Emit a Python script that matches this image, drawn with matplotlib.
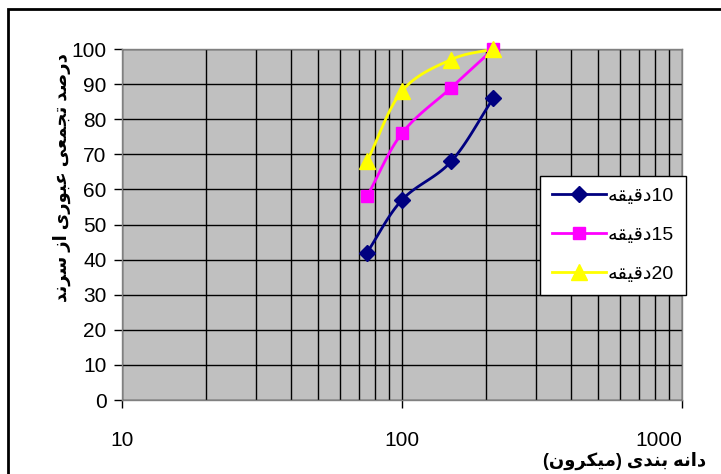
import numpy as np
import matplotlib
matplotlib.use("Agg")
import matplotlib.pyplot as plt
from matplotlib.lines import Line2D

# === Data ===
sizes_um = [75, 100, 150, 212]
pass_10min = [42, 57, 68, 86]
pass_15min = [58, 76, 89, 100]
pass_20min = [68, 88, 97, 100]

# Persian labels written as shaped presentation forms in visual (left-to-right) order
minute_word = "\uFEEA\uFED8\uFEF4\uFED7\uFEA9"          # دقیقه
series_labels = [minute_word + "10", minute_word + "15", minute_word + "20"]
ylabel_text = " ".join([
    "\uFEAA\uFEE7\uFEAE\uFEB3",                          # سرند
    "\uFEAF\uFE8D",                                      # از
    "\uFEEF\uFEAD\uFEEE\uFE92\uFECB",                    # عبوری
    "\uFEF0\uFECC\uFEE4\uFEA0\uFE97",                    # تجمعی
    "\uFEAA\uFEBB\uFEAD\uFEA9",                          # درصد
])
xlabel_text = " ".join([
    "(\uFEE5\uFEED\uFEAE\uFEDC\uFEF4\uFEE3)",            # (میکرون)
    "\uFEEF\uFEAA\uFEE8\uFE91",                          # بندی
    "\uFEEA\uFEE7\uFE8D\uFEA9",                          # دانه
])

colors = ["#000080", "#FF00FF", "#FFFF00"]
markers = ["D", "s", "^"]
marker_sizes = [8, 9, 11]
FONT = ["Liberation Sans", "DejaVu Sans"]


def smooth_curve(x, y, n=30):
    """Catmull-Rom style smoothing in log-x space, similar to Excel's smoothed lines."""
    lx = np.log10(np.asarray(x, float))
    yy = np.asarray(y, float)
    px = np.concatenate([[2 * lx[0] - lx[1]], lx, [2 * lx[-1] - lx[-2]]])
    py = np.concatenate([[2 * yy[0] - yy[1]], yy, [2 * yy[-1] - yy[-2]]])
    out_x, out_y = [], []
    t = np.linspace(0, 1, n)
    for i in range(1, len(px) - 2):
        for arr, out in ((px, out_x), (py, out_y)):
            p0, p1, p2, p3 = arr[i - 1], arr[i], arr[i + 1], arr[i + 2]
            seg = 0.5 * ((2 * p1) + (-p0 + p2) * t
                         + (2 * p0 - 5 * p1 + 4 * p2 - p3) * t ** 2
                         + (-p0 + 3 * p1 - 3 * p2 + p3) * t ** 3)
            out.extend(seg)
    return 10 ** np.array(out_x), np.array(out_y)


fig = plt.figure(figsize=(7.21, 4.74), dpi=100)
ax = fig.add_axes([122 / 721, 1 - 400 / 474, 560 / 721, 351 / 474])
ax.set_facecolor("#C0C0C0")

# chart area border
fig.patches.append(plt.Rectangle((8 / 721, -0.1), 1.2, 1 - 9 / 474 + 0.1, transform=fig.transFigure,
                                 fill=False, edgecolor="black", linewidth=2, zorder=0))

handles = []
for vals, c, m, ms, lab in zip([pass_10min, pass_15min, pass_20min], colors, markers, marker_sizes, series_labels):
    sx, sy = smooth_curve(sizes_um, vals)
    ax.plot(sx, sy, color=c, linewidth=2, zorder=3, clip_on=False)
    ax.plot(sizes_um, vals, linestyle="none", marker=m, markersize=ms, color=c, zorder=4, clip_on=False)
    handles.append(Line2D([0], [0], color=c, linewidth=2, marker=m, markersize=ms, label=lab))

ax.set_xscale("log")
ax.set_xlim(10, 1000)
ax.set_ylim(0, 100)
ax.set_yticks(range(0, 101, 10))
ax.set_xticks([10, 100, 1000])
ax.set_xticklabels(["10", "100", "1000"])
ax.xaxis.set_minor_locator(matplotlib.ticker.LogLocator(base=10, subs=np.arange(2, 10)))
ax.xaxis.set_minor_formatter(matplotlib.ticker.NullFormatter())

ax.grid(True, which="both", axis="x", color="black", linewidth=1)
ax.grid(True, which="major", axis="y", color="black", linewidth=1)
ax.set_axisbelow(True)

for side in ["top", "right", "left", "bottom"]:
    ax.spines[side].set_color("#808080")
    ax.spines[side].set_linewidth(1)

ax.tick_params(axis="both", which="major", direction="out", length=6, width=1, colors="black",
               labelsize=15, pad=5)
ax.tick_params(axis="x", which="major", pad=16)
ax.tick_params(axis="x", which="minor", length=0)
for lbl in ax.get_xticklabels() + ax.get_yticklabels():
    lbl.set_family(FONT)
# Excel keeps the last category label inside the chart area
ax.get_xticklabels()[-1].set_horizontalalignment("right")

fig.text(62 / 721, 1 - 178 / 474, ylabel_text, rotation=90, ha="center", va="center",
         fontsize=13, fontweight="bold", family=FONT)
fig.text(706 / 721, 1 - 461 / 474, xlabel_text, ha="right", va="center",
         fontsize=13, fontweight="bold", family=FONT)

leg = ax.legend(handles=handles, loc="upper left", bbox_to_anchor=((540 - 122) / 560, (400 - 176) / 351),
                frameon=True, fancybox=False, framealpha=1, edgecolor="black", facecolor="white",
                prop={"family": FONT, "size": 14}, handlelength=2.8, handletextpad=0.1,
                labelspacing=1.1, borderpad=0.6, borderaxespad=0)
leg.get_frame().set_linewidth(1)

fig.savefig("out.png", dpi=100)
